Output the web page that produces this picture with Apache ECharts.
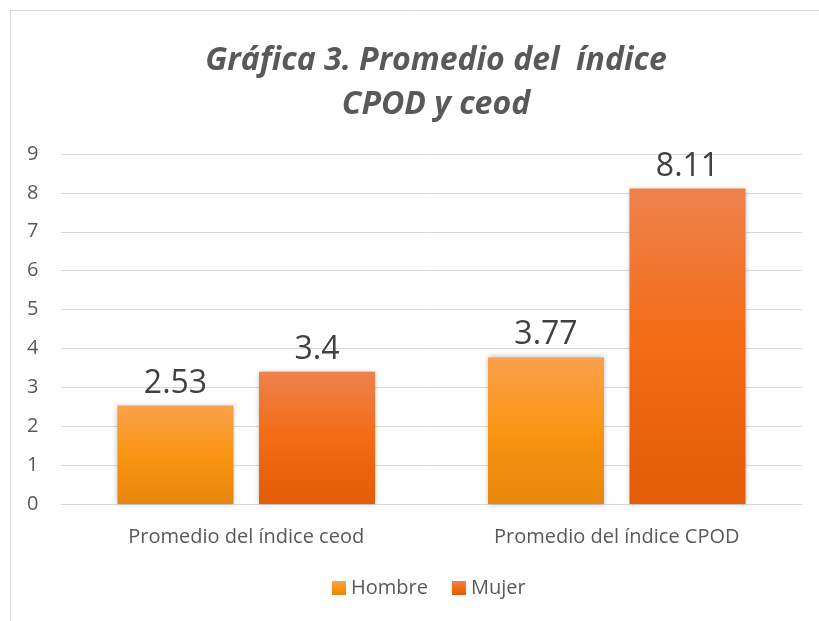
<!DOCTYPE html>
<html>
<head>
<meta charset="utf-8">
<script src="https://cdn.jsdelivr.net/npm/echarts@6/dist/echarts.min.js"></script>
<style>
  html, body { margin: 0; padding: 0; background: #fff; }
  #main { width: 819px; height: 621px; }
</style>
</head>
<body>
<div id="main"></div>
<script>
// datos del gráfico
var categorias = ['Promedio del índice ceod', 'Promedio del índice CPOD']
var hombre = [2.53, 3.77]
var mujer = [3.4, 8.11]
var etiquetasHombre = ['2.53', '3.77']
var etiquetasMujer = ['3.4', '8.11']

var chart = echarts.init(document.getElementById('main'))

function grad(top, mid, bottom) {
  return new echarts.graphic.LinearGradient(0, 0, 0, 1, [
    { offset: 0, color: top },
    { offset: 0.5, color: mid },
    { offset: 1, color: bottom }
  ])
}

var option = {
  backgroundColor: '#fff',
  animation: false,
  title: {
    text: 'Gráfica 3. Promedio del  índice\nCPOD y ceod',
    left: 431,
    textAlign: 'center',
    top: 34,
    textStyle: {
      fontFamily: 'Open Sans',
      fontStyle: 'italic',
      fontWeight: 'bold',
      fontSize: 32,
      color: '#595959',
      lineHeight: 44
    }
  },
  legend: {
    bottom: 18,
    left: 327,
    itemWidth: 14,
    itemHeight: 14,
    itemGap: 24,
    icon: 'rect',
    textStyle: { fontFamily: 'Open Sans', fontSize: 20, color: '#595959' },
    data: ['Hombre', 'Mujer']
  },
  grid: {
    left: 61,
    right: 17,
    top: 154,
    bottom: 117,
    containLabel: false
  },
  xAxis: {
    type: 'category',
    data: categorias,
    axisLine: { lineStyle: { color: '#d9d9d9', width: 1 } },
    axisTick: { show: false },
    axisLabel: {
      fontFamily: 'Open Sans',
      fontSize: 20,
      color: '#595959',
      margin: 23
    }
  },
  yAxis: {
    type: 'value',
    min: 0,
    max: 9,
    interval: 1,
    axisLine: { show: false },
    axisTick: { show: false },
    splitLine: { lineStyle: { color: '#d9d9d9', width: 1 } },
    axisLabel: {
      fontFamily: 'Open Sans',
      fontSize: 20,
      color: '#595959',
      margin: 34,
      align: 'left'
    }
  },
  series: [
    {
      name: 'Hombre',
      type: 'bar',
      data: hombre,
      barWidth: 116,
      barGap: '22%',
      itemStyle: {
        color: grad('#F9A14C', '#FB9513', '#E6860B'),
        shadowColor: 'rgba(0,0,0,0.3)',
        shadowBlur: 5
      },
      label: {
        show: true,
        position: 'top',
        distance: 6,
        fontFamily: 'Open Sans',
        fontSize: 32,
        color: '#404040',
        formatter: function (p) { return etiquetasHombre[p.dataIndex] }
      }
    },
    {
      name: 'Mujer',
      type: 'bar',
      data: mujer,
      barWidth: 116,
      itemStyle: {
        color: grad('#EE824C', '#F36B14', '#E25D06'),
        shadowColor: 'rgba(0,0,0,0.3)',
        shadowBlur: 5
      },
      label: {
        show: true,
        position: 'top',
        distance: 6,
        fontFamily: 'Open Sans',
        fontSize: 32,
        color: '#404040',
        formatter: function (p) { return etiquetasMujer[p.dataIndex] }
      }
    }
  ],
  graphic: [
    {
      type: 'rect',
      shape: { x: 10.5, y: 10.5, width: 820, height: 620 },
      style: { fill: 'none', stroke: '#d9d9d9', lineWidth: 1 },
      silent: true
    }
  ]
}

option && chart.setOption(option)
</script>
</body>
</html>
